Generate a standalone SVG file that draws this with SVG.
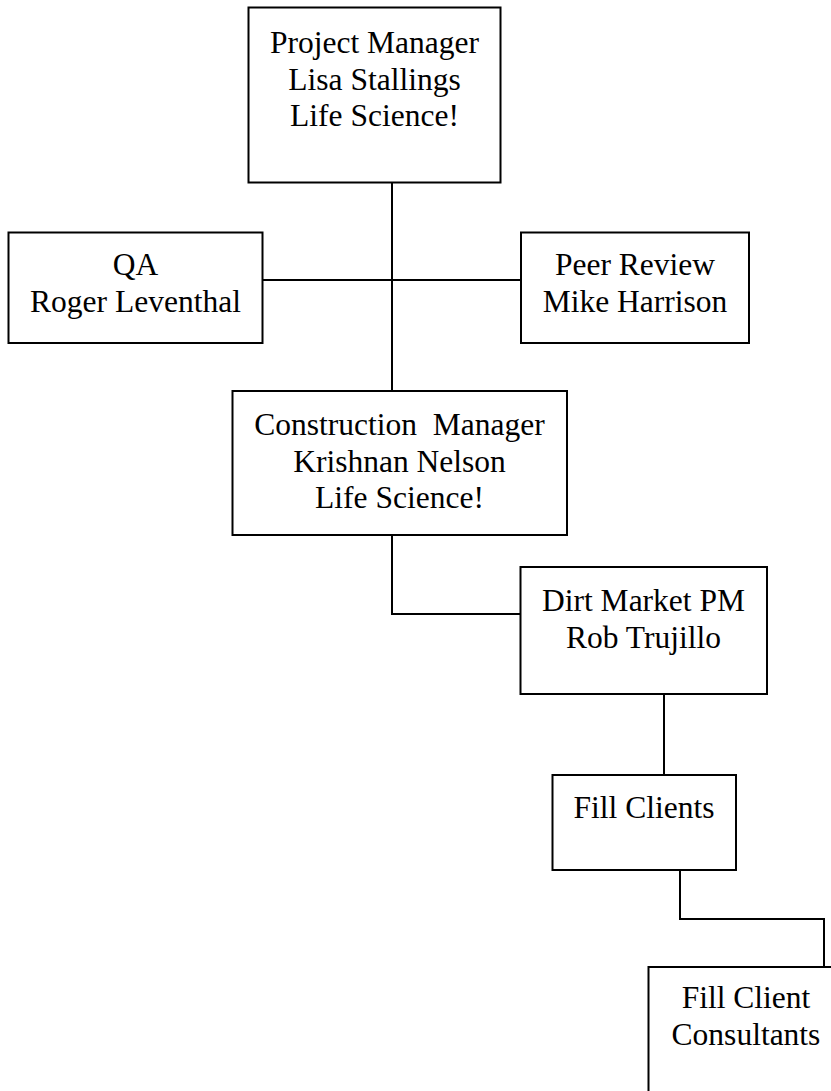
<svg xmlns="http://www.w3.org/2000/svg" width="831" height="1091" viewBox="0 0 831 1091">
<style>
.box{fill:#fff;stroke:#000;stroke-width:2}
.con{fill:none;stroke:#000;stroke-width:2}
text{font-family:"Liberation Serif","Times New Roman",serif;font-size:31.5px;fill:#000;text-anchor:middle;white-space:pre}
</style>
<rect x="0" y="0" width="831" height="1091" fill="#fff"/>
<g id="connectors">
<line class="con" x1="392" y1="183" x2="392" y2="391"/>
<line class="con" x1="263" y1="280" x2="521" y2="280"/>
<polyline class="con" points="392,535 392,614 520,614"/>
<line class="con" x1="664" y1="694" x2="664" y2="775"/>
<polyline class="con" points="680,870 680,919 824,919 824,967"/>
</g>
<g id="project-manager">
<rect class="box" x="248.5" y="7.5" width="252" height="175"/>
<text x="374.5" y="53">Project Manager</text>
<text x="374.5" y="89.5">Lisa Stallings</text>
<text x="374.5" y="126">Life Science!</text>
</g>
<g id="qa">
<rect class="box" x="8.5" y="232.5" width="254" height="110.5"/>
<text x="135.5" y="275">QA</text>
<text x="135.5" y="311.5">Roger Leventhal</text>
</g>
<g id="peer-review">
<rect class="box" x="521" y="232.5" width="228" height="110.5"/>
<text x="635" y="275">Peer Review</text>
<text x="635" y="311.5">Mike Harrison</text>
</g>
<g id="construction-manager">
<rect class="box" x="232.5" y="391" width="334.5" height="144"/>
<text x="399.5" y="435">Construction  Manager</text>
<text x="399.5" y="471.5">Krishnan Nelson</text>
<text x="399.5" y="508">Life Science!</text>
</g>
<g id="dirt-market-pm">
<rect class="box" x="520.5" y="567" width="246.5" height="127"/>
<text x="643.5" y="611">Dirt Market PM</text>
<text x="643.5" y="647.5">Rob Trujillo</text>
</g>
<g id="fill-clients">
<rect class="box" x="552.5" y="775" width="183.5" height="95"/>
<text x="644" y="818">Fill Clients</text>
</g>
<g id="fill-client-consultants">
<rect class="box" x="648.5" y="967" width="196" height="140"/>
<text x="746" y="1008">Fill Client</text>
<text x="746" y="1045">Consultants</text>
</g>
</svg>
